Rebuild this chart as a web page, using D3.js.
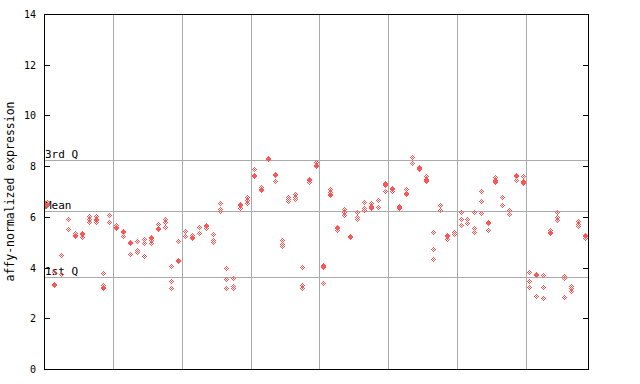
<!DOCTYPE html>
<html>
<head>
<meta charset="utf-8">
<script src="https://cdn.jsdelivr.net/npm/d3@7"></script>
<style>
  body { margin: 0; background: #fff; }
  text { font-family: "DejaVu Sans Mono", monospace; fill: #000; }
</style>
</head>
<body>
<div id="container"></div>
<script>
// one entry per sample column, each holding the replicate values drawn as diamonds
const samples = d3.range(1, 80);
const values = [
  [6.57, 6.49, 6.45], [3.84, 3.36, 3.32], [4.50, 3.76], [5.91, 5.52], [5.36, 5.29, 5.25],
  [5.36, 5.32, 5.19], [6.02, 5.90, 5.78], [6.02, 5.91, 5.87, 5.80], [3.79, 3.32, 3.25, 3.18], [6.07, 5.78],
  [5.66, 5.59, 5.55], [5.46, 5.42, 5.26], [5.00, 4.96, 4.55], [5.03, 4.68, 4.60], [5.13, 4.96, 4.45],
  [5.20, 5.16, 5.09, 4.96], [5.70, 5.55, 5.51], [5.91, 5.80, 5.60], [4.05, 3.46, 3.18], [5.03, 4.29, 4.25],
  [5.43, 5.23], [5.27, 5.19, 5.15], [5.61, 5.38], [5.67, 5.63, 5.55], [5.31, 5.08, 5.00],
  [6.55, 6.32, 6.22], [3.97, 3.54, 3.18], [3.59, 3.28, 3.20], [6.49, 6.45, 6.36], [6.77, 6.65, 6.53],
  [7.87, 7.64, 7.60], [7.18, 7.11, 7.07], [8.31, 8.27], [7.68, 7.64, 7.40], [5.08, 4.94, 4.84],
  [6.80, 6.72, 6.64], [6.90, 6.80, 6.69], [4.01, 3.31, 3.21], [7.49, 7.45, 7.36], [8.15, 8.05, 8.01],
  [4.10, 4.06, 4.02, 3.39], [7.11, 6.99, 6.91, 6.87], [5.59, 5.55, 5.47], [6.32, 6.20, 6.07], [5.24, 5.20],
  [6.18, 6.01, 5.92], [6.57, 6.35, 6.27], [6.53, 6.42, 6.38, 6.34], [6.65, 6.38], [7.35, 7.28, 7.24, 7.02],
  [7.12, 7.08, 7.02], [6.41, 6.37, 6.34], [7.10, 6.93, 6.89], [8.35, 8.11], [7.97, 7.91, 7.87],
  [7.60, 7.50, 7.46, 7.41], [5.39, 4.72, 4.33], [6.48, 6.26], [5.28, 5.24, 5.14], [5.42, 5.33],
  [6.21, 5.90, 5.66], [5.91, 5.74], [6.18, 5.57, 5.39], [7.01, 6.61, 6.14], [5.80, 5.76, 5.47],
  [7.56, 7.45, 7.41, 7.36], [6.77, 6.45], [6.26, 6.10], [7.64, 7.60, 7.44], [7.62, 7.41, 7.37, 7.32],
  [3.81, 3.46, 3.22], [3.74, 3.70, 2.87], [3.69, 3.22, 2.79], [5.47, 5.41, 5.37], [6.19, 6.01, 5.88],
  [3.67, 3.59, 2.83], [3.27, 3.18, 3.09], [5.85, 5.73, 5.63], [5.30, 5.26, 5.18]
];
const yTicks = [0, 2, 4, 6, 8, 10, 12, 14];
const refLines = [
  {label: '3rd Q', value: 8.23},
  {label: 'Mean', value: 6.23},
  {label: '1st Q', value: 3.62}
];
const groupStarts = [11, 21, 31, 41, 51, 61, 71];

const config = {width: 640, height: 384, left: 44, right: 588, top: 14, bottom: 369};
const red = '#ff5555';
const grid = '#aaaaaa';
const px = v => Math.round(v) + 0.5;

const svg = d3.select('#container')
  .append('svg')
  .attr('width', config.width)
  .attr('height', config.height)
  .attr('shape-rendering', 'crispEdges');

const x = d3.scaleBand().domain(samples).range([config.left, config.right]);
const y = d3.scaleLinear().domain([0, 14]).range([config.bottom, config.top]);

// vertical separators between sample groups
svg.append('g').selectAll('line')
  .data(groupStarts)
  .join('line')
  .attr('x1', d => px(x(d))).attr('x2', d => px(x(d)))
  .attr('y1', config.top).attr('y2', config.bottom)
  .attr('stroke', grid);

// quartile / mean lines
svg.append('g').selectAll('line')
  .data(refLines)
  .join('line')
  .attr('x1', config.left).attr('x2', config.right)
  .attr('y1', d => px(y(d.value))).attr('y2', d => px(y(d.value)))
  .attr('stroke', grid);

svg.append('g').selectAll('text')
  .data(refLines)
  .join('text')
  .attr('x', config.left + 1)
  .attr('y', d => Math.round(y(d.value)) - 2)
  .style('font-size', '11px')
  .text(d => d.label);

// frame
svg.append('rect')
  .attr('x', config.left + 0.5).attr('y', config.top + 0.5)
  .attr('width', config.right - config.left).attr('height', config.bottom - config.top)
  .attr('fill', 'none').attr('stroke', '#000');

// y axis ticks pointing into the plot on both sides
svg.append('g')
  .attr('transform', `translate(${config.left + 0.5},0)`)
  .call(d3.axisRight(y).tickValues(yTicks).tickSize(5).tickFormat(''))
  .call(g => g.select('.domain').remove());
svg.append('g')
  .attr('transform', `translate(${config.right + 0.5},0)`)
  .call(d3.axisLeft(y).tickValues(yTicks).tickSize(6).tickFormat(''))
  .call(g => g.select('.domain').remove());

svg.append('g').selectAll('text')
  .data(yTicks)
  .join('text')
  .attr('x', 36)
  .attr('y', d => y(d) + 4)
  .attr('text-anchor', 'end')
  .style('font-size', '10px')
  .text(d => d);

svg.append('text')
  .attr('transform', `translate(14,${(config.top + config.bottom) / 2}) rotate(-90)`)
  .attr('text-anchor', 'middle')
  .style('font-size', '11.5px')
  .text('affy-normalized expression');

// checkered diamond sprite
const cells = [];
for (let dy = -2; dy <= 2; dy++) {
  for (let dx = -2; dx <= 2; dx++) {
    if (Math.abs(dx) + Math.abs(dy) <= 2 && (dx + dy) % 2 === 0) cells.push([dx, dy]);
  }
}
const sprite = cells.map(([dx, dy]) => `M${dx},${dy}h1v1h-1z`).join('');

const points = samples.flatMap((s, i) => values[i].map(v => ({sample: s, value: v})));

svg.append('g').selectAll('path')
  .data(points)
  .join('path')
  .attr('transform', d => `translate(${Math.round(x(d.sample) + x.bandwidth() / 2)},${Math.round(y(d.value))})`)
  .attr('d', sprite)
  .attr('fill', red);
</script>
</body>
</html>
